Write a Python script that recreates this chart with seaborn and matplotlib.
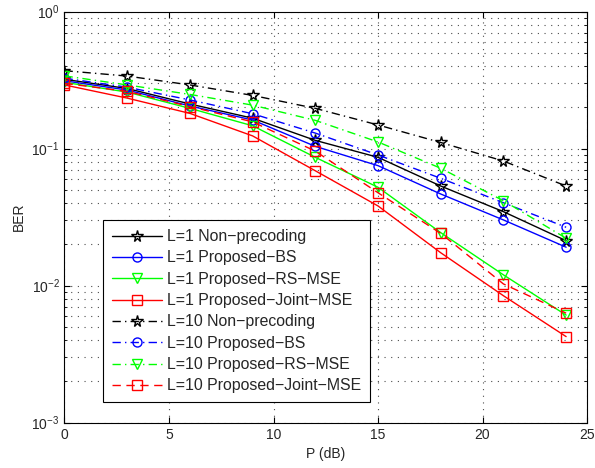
import matplotlib
matplotlib.use("Agg")
import matplotlib.pyplot as plt
import seaborn as sns
import numpy as np
import pandas as pd

# ---- data ----
p_db = [0, 3, 6, 9, 12, 15, 18, 21, 24]

l1_nonprec = [0.321, 0.275, 0.212, 0.167, 0.115, 0.0865, 0.0534, 0.0347, 0.0213]
l1_bs = [0.313, 0.268, 0.205, 0.162, 0.104, 0.0752, 0.0467, 0.0302, 0.0191]
l1_rs = [0.305, 0.259, 0.197, 0.147, 0.0865, 0.0523, 0.0244, 0.0120, 0.0061]
l1_joint = [0.292, 0.234, 0.181, 0.124, 0.069, 0.0382, 0.0174, 0.00845, 0.00425]
l10_nonprec = [0.371, 0.339, 0.292, 0.245, 0.197, 0.149, 0.111, 0.0813, 0.0534]
l10_bs = [0.327, 0.281, 0.227, 0.180, 0.130, 0.090, 0.0608, 0.0403, 0.0267]
l10_rs = [0.340, 0.292, 0.249, 0.208, 0.161, 0.112, 0.072, 0.0417, 0.0222]
l10_joint = [0.300, 0.262, 0.203, 0.157, 0.096, 0.0477, 0.0241, 0.0103, 0.0063]

labels = ["L=1 Non\u2212precoding", "L=1 Proposed\u2212BS", "L=1 Proposed\u2212RS\u2212MSE",
          "L=1 Proposed\u2212Joint\u2212MSE", "L=10 Non\u2212precoding", "L=10 Proposed\u2212BS",
          "L=10 Proposed\u2212RS\u2212MSE", "L=10 Proposed\u2212Joint\u2212MSE"]
series = [l1_nonprec, l1_bs, l1_rs, l1_joint, l10_nonprec, l10_bs, l10_rs, l10_joint]

colors = ["k", "#0000ff", "#00ff00", "#ff0000", "k", "#0000ff", "#00ff00", "#ff0000"]
markers = ["*", "o", "v", "s", "*", "o", "v", "s"]
dashdot = (0, (6, 3, 1, 3))
styles = ["-", "-", "-", "-", dashdot, dashdot, dashdot, (0, (6, 4))]

sns.set_style("ticks")
plt.rcParams["font.family"] = ["Liberation Sans", "DejaVu Sans"]
plt.rcParams["font.size"] = 10
plt.rcParams["mathtext.fontset"] = "custom"
plt.rcParams["mathtext.rm"] = "Liberation Sans"
plt.rcParams["mathtext.it"] = "Liberation Sans"

fig = plt.figure(figsize=(5.95, 4.68), dpi=100)
ax = fig.add_axes([0.1084, 0.0968, 0.8782, 0.8782])

for ys, lab, c, m, ls in zip(series, labels, colors, markers, styles):
    df = pd.DataFrame({"P": p_db, "BER": ys})
    ms = 8.5 if m == "*" else 6.5
    sns.lineplot(data=df, x="P", y="BER", ax=ax, color=c, marker=m, linestyle=ls,
                 markersize=ms, markerfacecolor="none", markeredgecolor=c,
                 markeredgewidth=1.0, linewidth=1.0, label=lab, estimator=None)

ax.set_yscale("log")
ax.set_xlim(0, 25)
ax.set_ylim(1e-3, 1)
ax.set_xticks([0, 5, 10, 15, 20, 25])
ax.set_xlabel("P (dB)", fontsize=10)
ax.set_ylabel("BER", fontsize=10)

ax.grid(True, which="major", axis="x", color="0.3", linestyle=(0, (1, 5)), linewidth=0.8)
ax.grid(True, which="both", axis="y", color="0.3", linestyle=(0, (1, 5)), linewidth=0.8)

ax.tick_params(which="both", direction="in", top=True, right=True, labelsize=10, color="k")
ax.tick_params(which="major", length=4, width=0.8)
ax.tick_params(which="minor", length=2, width=0.6)
ax.tick_params(axis="x", which="minor", bottom=False, top=False)
for s in ax.spines.values():
    s.set_color("k")
    s.set_linewidth(0.8)

leg = ax.legend(loc="lower left", bbox_to_anchor=(0.0737, 0.050), borderaxespad=0,
                fontsize=11.4, frameon=True, fancybox=False, framealpha=1, edgecolor="k",
                handlelength=3.15, handletextpad=0.35, borderpad=0.55, labelspacing=0.4,
                numpoints=1)
leg.get_frame().set_linewidth(0.8)

fig.savefig("out.png", dpi=100)
